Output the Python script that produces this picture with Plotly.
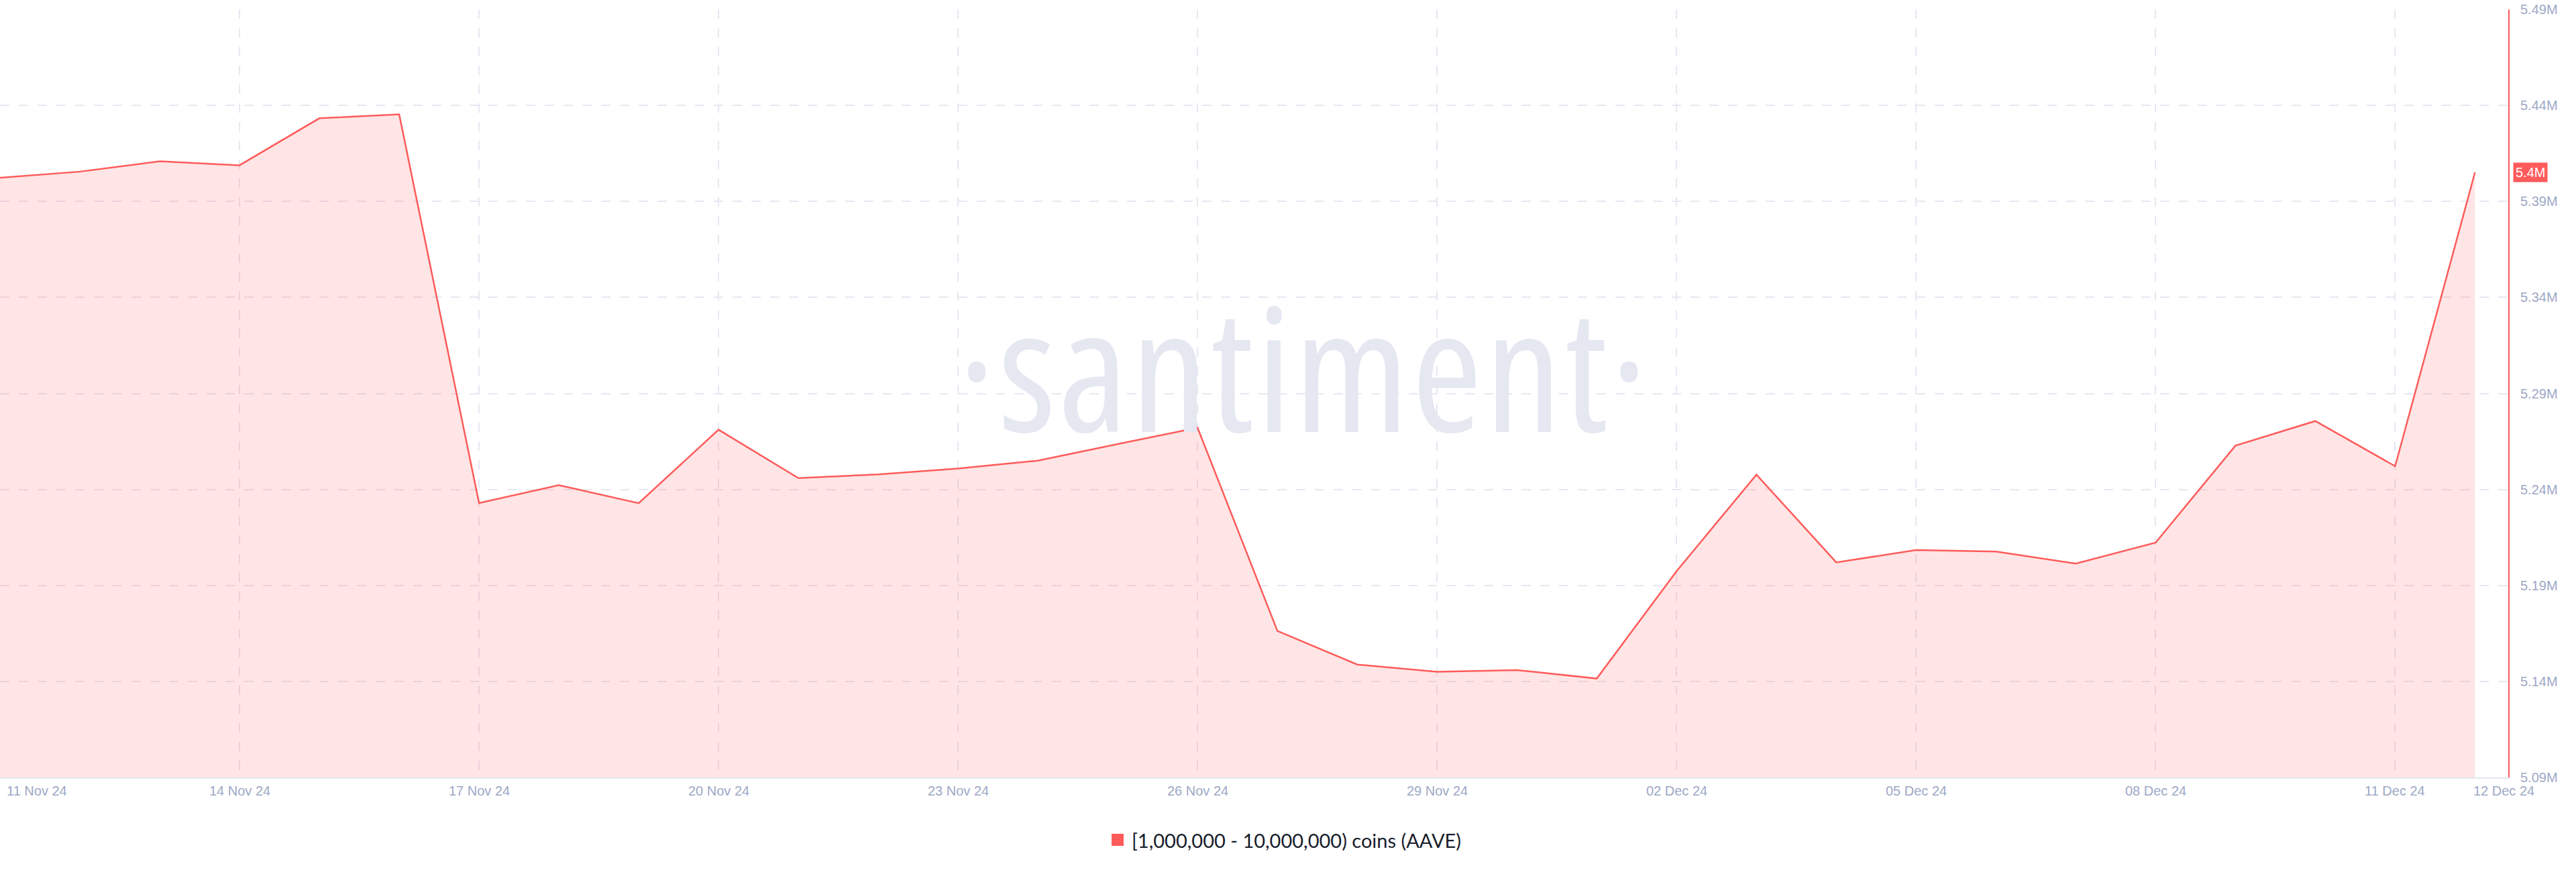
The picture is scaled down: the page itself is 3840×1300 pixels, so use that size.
import pandas as pd
import plotly.graph_objects as go

# ---------------- data ----------------
dates = pd.date_range("2024-11-11", "2024-12-12", freq="D")
values_m = [
    5.4023, 5.4055, 5.4109, 5.4088, 5.4333, 5.4353, 5.2329, 5.2422, 5.2328, 5.2711,
    5.2459, 5.2478, 5.2509, 5.2550, 5.2636, 5.2721, 5.1663, 5.1488, 5.1450, 5.1459,
    5.1415, 5.1974, 5.2477, 5.2020, 5.2084, 5.2076, 5.2014, 5.2123, 5.2628, 5.2756,
    5.2521, 5.4051,
]
series_name = "[1,000,000 - 10,000,000) coins (AAVE)"
y_ticks = [5.09, 5.14, 5.19, 5.24, 5.29, 5.34, 5.39, 5.44, 5.49]
y_ticktext = [f"{v:.2f}M" for v in y_ticks]
x_tickdates = pd.date_range("2024-11-11", "2024-12-11", freq="3D")
x_label_dates = list(x_tickdates) + [pd.Timestamp("2024-12-12")]

RED = "#FF5B5B"
GRID = "#E6E8F2"
TICKC = "#9DA8C6"

fig = go.Figure()
fig.add_trace(go.Scatter(
    x=dates, y=values_m, mode="lines", name=series_name,
    line=dict(color=RED, width=2.5),
    fill="tozeroy", fillcolor="rgba(255,91,91,0.16)",
    showlegend=False, hoverinfo="skip",
))

W, H = 3840, 1300
ml, mr, mt, mb = 0, 101, 14, 141
pw, ph = W - ml - mr, H - mt - mb

fig.update_layout(
    width=W, height=H,
    margin=dict(l=ml, r=mr, t=mt, b=mb, pad=0, autoexpand=False),
    paper_bgcolor="white", plot_bgcolor="white",
    showlegend=False,
    font=dict(family="Liberation Sans, Arial, sans-serif", color=TICKC, size=20),
)

fig.update_xaxes(
    type="date", automargin=False,
    range=[pd.Timestamp("2024-11-11"), pd.Timestamp("2024-12-12 10:00")],
    tickvals=list(x_tickdates), showticklabels=False, ticks="",
    showgrid=True, gridcolor=GRID, gridwidth=2, griddash="14px,14px",
    showline=True, linecolor="#E3E6F0", linewidth=2,
    zeroline=False,
)
fig.update_yaxes(
    range=[5.09, 5.49], side="right", automargin=False,
    tickvals=y_ticks, ticktext=y_ticktext, ticks="",
    ticklabelstandoff=12,
    tickfont=dict(family="Liberation Sans, Arial, sans-serif", size=20, color=TICKC),
    showgrid=True, gridcolor=GRID, gridwidth=2, griddash="14px,14px",
    showline=True, linecolor=RED, linewidth=2,
    zeroline=False,
)

# x tick labels as annotations
for i, d in enumerate(x_label_dates):
    if i == 0:
        xanchor, xshift = "left", 8
    elif i == len(x_label_dates) - 1:
        xanchor, xshift = "left", -4
    else:
        xanchor, xshift = "center", 0
    fig.add_annotation(
        x=d, xref="x", y=-(1179 - 1159) / ph, yref="paper",
        text=d.strftime("%d %b %y"),
        showarrow=False, xanchor=xanchor, yanchor="middle", xshift=xshift,
        font=dict(family="Liberation Sans, Arial, sans-serif", size=20, color=TICKC),
    )

# last-value badge
last_val = values_m[-1]
fig.add_annotation(
    x=1, xref="paper", y=last_val, yref="y",
    text=f"{last_val:.1f}M", showarrow=False,
    xanchor="left", yanchor="middle", xshift=7,
    bgcolor=RED, borderpad=3,
    font=dict(family="Liberation Sans, Arial, sans-serif", size=20, color="white"),
)

# watermark
fig.add_annotation(
    x=1944 / pw, xref="paper", y=(1159 - 545) / ph, yref="paper",
    text='<span style="font-stretch:75%;letter-spacing:4px">·santiment·</span>',
    showarrow=False, xanchor="center", yanchor="middle",
    font=dict(family="Open Sans, Noto Sans, sans-serif", size=254, color="#E5E7F1"),
)

# legend (square + text)
leg_y = -(1252 - 1159) / ph
fig.add_shape(
    type="rect", xref="paper", yref="paper",
    x0=1657 / pw, x1=1675 / pw, y0=leg_y - 9 / ph, y1=leg_y + 9 / ph,
    fillcolor=RED, line=dict(width=0),
)
fig.add_annotation(
    x=1685 / pw, xref="paper", y=leg_y, yref="paper",
    text=series_name, showarrow=False, xanchor="left", yanchor="middle",
    font=dict(family="Lato, Inter, sans-serif", size=29, color="#181D2C"),
)

fig.write_html(
    "out.html",
    config={"displayModeBar": False},
    post_script="document.body.style.margin='0';document.body.style.overflow='hidden';",
)
